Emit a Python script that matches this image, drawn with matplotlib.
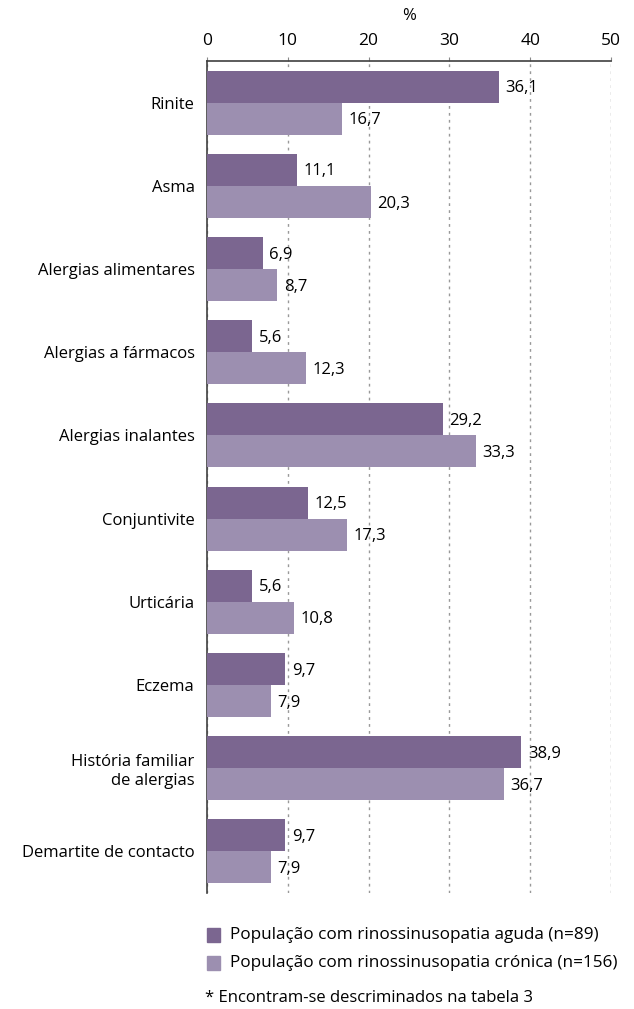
import matplotlib
matplotlib.use("Agg")
import matplotlib.pyplot as plt
import numpy as np
from matplotlib.patches import Rectangle

plt.rcParams['font.family'] = ['Open Sans', 'DejaVu Sans']

categories = ["Rinite", "Asma", "Alergias alimentares", "Alergias a fármacos",
              "Alergias inalantes", "Conjuntivite", "Urticária", "Eczema",
              "História familiar\nde alergias", "Demartite de contacto"]
aguda = [36.1, 11.1, 6.9, 5.6, 29.2, 12.5, 5.6, 9.7, 38.9, 9.7]
cronica = [16.7, 20.3, 8.7, 12.3, 33.3, 17.3, 10.8, 7.9, 36.7, 7.9]
series_names = ["População com rinossinusopatia aguda (n=89)",
                "População com rinossinusopatia crónica (n=156)"]
footnote = "* Encontram-se descriminados na tabela 3"

c_dark = "#7b6690"
c_light = "#9c8fb0"
fs = 12

fig = plt.figure(figsize=(6.34, 10.09), dpi=100)
ax = fig.add_axes([0.3265, 0.115, 0.6372, 0.8245])

y = np.arange(len(categories))
h = 0.385
ax.barh(y - h / 2, aguda, height=h, color=c_dark, zorder=3)
ax.barh(y + h / 2, cronica, height=h, color=c_light, zorder=3)

def fmt(v):
    return f"{v:.1f}".replace(".", ",")

for yi, a, c in zip(y, aguda, cronica):
    ax.text(a + 0.8, yi - h / 2 + 0.02, fmt(a), va="center", ha="left", fontsize=fs)
    ax.text(c + 0.8, yi + h / 2 + 0.02, fmt(c), va="center", ha="left", fontsize=fs)

ax.set_xlim(0, 50)
ax.set_ylim(len(categories) - 0.5, -0.5)
ax.set_yticks(y)
ax.set_yticklabels(categories, fontsize=fs, ha="right", multialignment="right")
ax.tick_params(axis="y", length=0, pad=9)
ax.xaxis.tick_top()
ax.xaxis.set_label_position("top")
ax.set_xticks(np.arange(0, 51, 10))
ax.tick_params(axis="x", labelsize=12.5, length=3, color="#888888", pad=6)
ax.set_xlabel("%", fontsize=fs, labelpad=9)
ax.grid(axis="x", linestyle=(0, (2, 3)), color="#999999", linewidth=1, zorder=0)
for s in ["right", "bottom"]:
    ax.spines[s].set_visible(False)
ax.spines["top"].set_color("#404040")
ax.spines["left"].set_color("#404040")
ax.spines["top"].set_linewidth(1.2)
ax.spines["left"].set_linewidth(1.2)

# legend
for i, (name, col) in enumerate(zip(series_names, [c_dark, c_light])):
    yy = 1 - (935 + i * 28) / 1009
    fig.patches.append(Rectangle((207 / 634, yy - 7 / 1009), 13 / 634, 14 / 1009,
                                 transform=fig.transFigure, color=col))
    fig.text(230 / 634, yy, name, va="center", ha="left", fontsize=12.3)
fig.text(205 / 634, 1 - 998 / 1009, footnote, va="center", ha="left", fontsize=fs)

fig.savefig("out.png", dpi=100)
